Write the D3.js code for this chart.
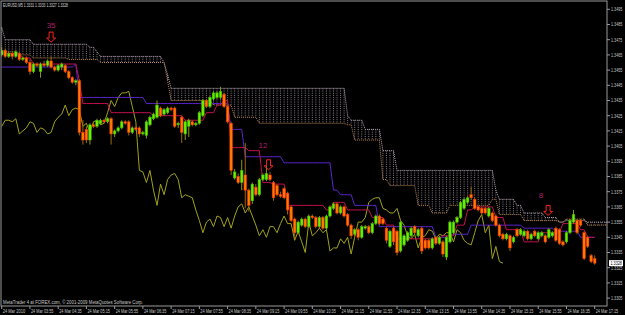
<!DOCTYPE html>
<html>
<head>
<meta charset="utf-8">
<script src="https://cdn.jsdelivr.net/npm/d3@7/dist/d3.min.js"></script>
<style>
  html, body { margin: 0; padding: 0; background: #000; }
  svg { display: block; }
  text { font-family: "Liberation Sans", Arial, sans-serif; }
</style>
</head>
<body>
<svg id="chart" width="625" height="315"></svg>
<script>
// EURUSD M5, 24 Mar 2010 03:15 - 17:15, one entry per bar
var opens = [1.3465,1.3468,1.3464,1.3466,1.3464,1.3466,1.3462,1.3463,1.3460,1.3454,1.3459,1.3454,1.3459,1.3458,1.3461,1.3457,1.3455,1.3457,1.3458,1.3454,
  1.3450,1.3447,1.3448,1.3414,1.3416,1.3409,1.3419,1.3418,1.3420,1.3422,1.3421,1.3423,1.3413,1.3415,1.3417,1.3421,1.3421,1.3414,1.3417,1.3417,
  1.3413,1.3412,1.3419,1.3423,1.3424,1.3430,1.3426,1.3427,1.3430,1.3430,1.3419,1.3424,1.3413,1.3418,1.3421,1.3419,1.3420,1.3425,1.3435,1.3431,
  1.3436,1.3437,1.3437,1.3439,1.3431,1.3420,1.3384,1.3385,1.3381,1.3386,1.3376,1.3369,1.3378,1.3373,1.3383,1.3383,1.3386,1.3381,1.3379,1.3373,
  1.3377,1.3374,1.3365,1.3357,1.3348,1.3353,1.3357,1.3352,1.3359,1.3358,1.3352,1.3358,1.3351,1.3359,1.3364,1.3367,1.3361,1.3365,1.3360,1.3353,
  1.3347,1.3350,1.3345,1.3351,1.3352,1.3348,1.3354,1.3359,1.3357,1.3351,1.3339,1.3351,1.3349,1.3336,1.3340,1.3343,1.3346,1.3352,1.3346,1.3351,
  1.3343,1.3343,1.3338,1.3345,1.3341,1.3342,1.3332,1.3342,1.3348,1.3355,1.3358,1.3364,1.3368,1.3373,1.3370,1.3365,1.3364,1.3364,1.3359,1.3361,
  1.3359,1.3353,1.3347,1.3344,1.3346,1.3342,1.3350,1.3347,1.3346,1.3349,1.3344,1.3349,1.3344,1.3346,1.3346,1.3345,1.3346,1.3351,1.3350,1.3342,
  1.3342,1.3348,1.3355,1.3356,1.3356,1.3348,1.3345,1.3333,1.3331];
var highs = [1.3470,1.3469,1.3467,1.3467,1.3468,1.3467,1.3464,1.3464,1.3462,1.3460,1.3460,1.3460,1.3461,1.3462,1.3464,1.3458,1.3459,1.3460,1.3459,1.3455,
  1.3451,1.3449,1.3449,1.3422,1.3418,1.3420,1.3421,1.3423,1.3423,1.3423,1.3424,1.3424,1.3416,1.3418,1.3422,1.3422,1.3422,1.3418,1.3418,1.3418,
  1.3415,1.3422,1.3425,1.3427,1.3435,1.3431,1.3430,1.3431,1.3431,1.3431,1.3421,1.3425,1.3422,1.3423,1.3422,1.3421,1.3428,1.3436,1.3436,1.3438,
  1.3441,1.3441,1.3444,1.3440,1.3432,1.3421,1.3390,1.3387,1.3396,1.3407,1.3377,1.3381,1.3380,1.3384,1.3387,1.3392,1.3388,1.3382,1.3380,1.3375,
  1.3378,1.3375,1.3366,1.3358,1.3356,1.3358,1.3358,1.3360,1.3360,1.3359,1.3359,1.3359,1.3360,1.3366,1.3368,1.3368,1.3366,1.3366,1.3361,1.3354,
  1.3351,1.3351,1.3353,1.3353,1.3353,1.3355,1.3360,1.3360,1.3358,1.3352,1.3350,1.3352,1.3350,1.3356,1.3347,1.3349,1.3352,1.3353,1.3351,1.3352,
  1.3344,1.3344,1.3345,1.3346,1.3346,1.3343,1.3346,1.3356,1.3356,1.3359,1.3369,1.3371,1.3372,1.3378,1.3371,1.3366,1.3365,1.3365,1.3365,1.3362,
  1.3360,1.3354,1.3348,1.3348,1.3347,1.3346,1.3351,1.3351,1.3350,1.3350,1.3348,1.3350,1.3349,1.3349,1.3347,1.3351,1.3349,1.3352,1.3351,1.3343,
  1.3349,1.3357,1.3363,1.3357,1.3357,1.3349,1.3346,1.3334,1.3333];
var lows = [1.3464,1.3463,1.3463,1.3462,1.3463,1.3461,1.3461,1.3459,1.3452,1.3453,1.3457,1.3450,1.3457,1.3457,1.3456,1.3454,1.3454,1.3455,1.3453,1.3449,
  1.3446,1.3445,1.3412,1.3406,1.3407,1.3406,1.3417,1.3417,1.3419,1.3420,1.3420,1.3406,1.3411,1.3414,1.3416,1.3419,1.3412,1.3413,1.3415,1.3411,
  1.3412,1.3410,1.3418,1.3422,1.3423,1.3424,1.3425,1.3426,1.3428,1.3417,1.3417,1.3407,1.3409,1.3411,1.3418,1.3418,1.3419,1.3424,1.3430,1.3430,
  1.3435,1.3436,1.3436,1.3430,1.3420,1.3386,1.3383,1.3380,1.3376,1.3364,1.3362,1.3367,1.3372,1.3372,1.3382,1.3382,1.3382,1.3369,1.3372,1.3371,
  1.3370,1.3360,1.3355,1.3344,1.3347,1.3352,1.3351,1.3351,1.3357,1.3351,1.3351,1.3350,1.3350,1.3358,1.3363,1.3360,1.3360,1.3358,1.3352,1.3344,
  1.3346,1.3343,1.3344,1.3350,1.3347,1.3347,1.3353,1.3353,1.3353,1.3341,1.3338,1.3340,1.3333,1.3335,1.3339,1.3342,1.3345,1.3347,1.3345,1.3334,
  1.3337,1.3337,1.3337,1.3340,1.3340,1.3332,1.3330,1.3341,1.3347,1.3354,1.3357,1.3363,1.3367,1.3370,1.3363,1.3362,1.3360,1.3360,1.3358,1.3355,
  1.3352,1.3345,1.3343,1.3343,1.3336,1.3341,1.3345,1.3346,1.3345,1.3343,1.3343,1.3345,1.3343,1.3345,1.3341,1.3344,1.3345,1.3342,1.3340,1.3339,
  1.3341,1.3347,1.3354,1.3347,1.3352,1.3330,1.3338,1.3328,1.3327];
var closes = [1.3468,1.3464,1.3466,1.3464,1.3467,1.3462,1.3463,1.3460,1.3454,1.3459,1.3458,1.3459,1.3458,1.3461,1.3457,1.3455,1.3458,1.3459,1.3454,1.3450,
  1.3447,1.3448,1.3414,1.3409,1.3409,1.3419,1.3418,1.3422,1.3422,1.3421,1.3423,1.3413,1.3415,1.3417,1.3421,1.3420,1.3414,1.3417,1.3416,1.3413,
  1.3414,1.3421,1.3424,1.3426,1.3432,1.3425,1.3429,1.3430,1.3429,1.3418,1.3420,1.3414,1.3421,1.3422,1.3419,1.3420,1.3427,1.3435,1.3431,1.3437,
  1.3440,1.3440,1.3441,1.3431,1.3421,1.3389,1.3388,1.3381,1.3389,1.3376,1.3366,1.3380,1.3373,1.3383,1.3386,1.3387,1.3383,1.3371,1.3373,1.3372,
  1.3371,1.3363,1.3356,1.3348,1.3355,1.3357,1.3352,1.3359,1.3358,1.3352,1.3358,1.3351,1.3359,1.3365,1.3367,1.3361,1.3365,1.3359,1.3353,1.3346,
  1.3350,1.3345,1.3352,1.3352,1.3348,1.3354,1.3359,1.3354,1.3354,1.3343,1.3349,1.3342,1.3335,1.3355,1.3346,1.3348,1.3351,1.3348,1.3350,1.3336,
  1.3338,1.3338,1.3344,1.3341,1.3345,1.3334,1.3345,1.3355,1.3355,1.3358,1.3368,1.3370,1.3371,1.3371,1.3364,1.3363,1.3361,1.3361,1.3364,1.3356,
  1.3353,1.3346,1.3344,1.3347,1.3338,1.3345,1.3346,1.3350,1.3349,1.3344,1.3347,1.3346,1.3348,1.3348,1.3342,1.3350,1.3348,1.3343,1.3341,1.3340,
  1.3348,1.3356,1.3360,1.3348,1.3353,1.3331,1.3339,1.3329,1.3328];

// indicator levels: [bar, price], value holds until next entry
var tenkanSteps = [[0,1.3466],[6,1.3463],[9,1.3459],[22,1.3448],[23,1.3433],[31,1.3427],[43,1.3425],[52,1.3422],[58,1.3427],[61,1.3432],
  [63,1.3435],[65,1.3404],[70,1.3402],[74,1.3381],[77,1.3380],[81,1.3366],[92,1.3363],[94,1.3368],[98,1.3363],[105,1.3358],[109,1.3353],
  [112,1.3344],[125,1.3346],[129,1.3353],[132,1.3363],[134,1.3365],[140,1.3358],[143,1.3350],[148,1.3342],[153,1.3348],[159,1.3354],
  [164,1.3350],[166,1.3345],[168,1.3345]];
var kijunSteps = [[0,1.3457],[21,1.3459],[22,1.3437],[41,1.3433],[65,1.3416],[69,1.3398],[80,1.3394],[94,1.3376],[96,1.3373],[100,1.3366],
  [107,1.3352],[123,1.3345],[127,1.3347],[133,1.3353],[148,1.3351],[157,1.3349],[164,1.3345],[168,1.3345]];
var spanASteps = [[0,1.3467],[5,1.3465],[9,1.3463],[19,1.3462],[28,1.3460],[47,1.3448],[48,1.3435],[60,1.3432],[66,1.3424],[73,1.3420],
  [98,1.3419],[100,1.3409],[108,1.3383],[110,1.3379],[118,1.3366],[122,1.3361],[127,1.3366],[139,1.3370],[141,1.3360],[148,1.3356],
  [158,1.3355],[160,1.3357],[166,1.3353],[172,1.3353]];
var spanBSteps = [[0,1.3483],[1,1.3475],[9,1.3472],[25,1.3470],[27,1.3467],[28,1.3464],[46,1.3460],[47,1.3452],[48,1.3443],[98,1.3425],
  [99,1.3422],[103,1.3416],[108,1.3402],[112,1.3389],[140,1.3376],[141,1.3370],[146,1.3366],[148,1.3361],[154,1.3358],[158,1.3355],
  [160,1.3356],[166,1.3355],[172,1.3355]];

var priceLabels = [1.3495,1.3485,1.3475,1.3465,1.3455,1.3445,1.3435,1.3425,1.3415,1.3405,1.3395,1.3385,1.3375,1.3365,1.3355,1.3345,1.3335,1.3325,1.3315,1.3305];
var timeLabels = ["24 Mar 2010","24 Mar 03:55","24 Mar 04:35","24 Mar 05:15","24 Mar 05:55","24 Mar 06:35","24 Mar 07:15","24 Mar 07:55",
  "24 Mar 08:35","24 Mar 09:15","24 Mar 09:55","24 Mar 10:35","24 Mar 11:15","24 Mar 11:55","24 Mar 12:35","24 Mar 13:15","24 Mar 13:55",
  "24 Mar 14:35","24 Mar 15:15","24 Mar 15:55","24 Mar 16:35","24 Mar 17:15"];
var signals = [
  {bar: 14, label: "35", price: 1.3483, arrowBar: 14, arrow: 1.3480},
  {bar: 74, label: "12", price: 1.3404, arrowBar: 75.6, arrow: 1.3396},
  {bar: 152.8, label: "8", price: 1.3371, arrowBar: 154.8, arrow: 1.3366}];

var svg = d3.select("#chart");
var W = 625, H = 315;
var plotRight = 607, plotBottom = 306;

var x = d3.scaleLinear().domain([0, 168]).range([1.7, 594.7]);
var y = d3.scaleLinear().domain([1.3495, 1.3305]).range([9.3, 298.1]);

svg.append("rect").attr("width", W).attr("height", H).attr("fill", "#000");

svg.append("defs").append("clipPath").attr("id", "plot")
  .append("rect").attr("x", 1).attr("y", 1).attr("width", plotRight - 1).attr("height", plotBottom - 1);

var g = svg.append("g").attr("clip-path", "url(#plot)");

// expand step breakpoints to one value per bar
function perBar(steps, n) {
  var out = [], k = 0;
  for (var i = 0; i < n; i++) {
    while (k + 1 < steps.length && steps[k + 1][0] <= i) k++;
    out.push(steps[k][1]);
  }
  return out;
}

var cloudBars = 173;
var spanA = perBar(spanASteps, cloudBars);
var spanB = perBar(spanBSteps, cloudBars);

// cloud hatch
g.selectAll("line.hatch").data(d3.range(cloudBars)).enter().append("line")
  .attr("x1", i => x(i)).attr("x2", i => x(i))
  .attr("y1", i => y(Math.max(spanA[i], spanB[i])))
  .attr("y2", i => y(Math.min(spanA[i], spanB[i])))
  .attr("stroke", i => spanA[i] > spanB[i] ? "#c08a58" : "#b9aab9")
  .attr("stroke-width", 0.9)
  .attr("stroke-dasharray", "1,1.2")
  .attr("opacity", 0.8);

var line = d3.line().x((d, i) => x(i)).y(d => y(d));

g.append("path").datum(spanA).attr("d", line)
  .attr("fill", "none").attr("stroke", "#c08a58").attr("stroke-width", 1).attr("stroke-dasharray", "1,1");
g.append("path").datum(spanB).attr("d", line)
  .attr("fill", "none").attr("stroke", "#b9aab9").attr("stroke-width", 1).attr("stroke-dasharray", "1,1");

// chikou span: close shifted back 26 bars
var chikou = closes.slice(26);
g.append("path").datum(chikou).attr("d", line)
  .attr("fill", "none").attr("stroke", "#a2a21c").attr("stroke-width", 1);

var nBars = closes.length;
g.append("path").datum(perBar(kijunSteps, nBars)).attr("d", line)
  .attr("fill", "none").attr("stroke", "#5a24c8").attr("stroke-width", 1);
g.append("path").datum(perBar(tenkanSteps, nBars)).attr("d", line)
  .attr("fill", "none").attr("stroke", "#c2104e").attr("stroke-width", 1);

// candles
var candles = g.selectAll("g.candle").data(d3.range(nBars)).enter().append("g");
candles.append("line")
  .attr("x1", i => x(i)).attr("x2", i => x(i))
  .attr("y1", i => y(highs[i])).attr("y2", i => y(lows[i]))
  .attr("stroke", i => closes[i] >= opens[i] ? "#8c9a18" : "#9a6a10")
  .attr("stroke-width", 1);
candles.append("rect")
  .attr("x", i => x(i) - 1.3)
  .attr("width", 2.6)
  .attr("y", i => y(Math.max(opens[i], closes[i])))
  .attr("height", i => Math.max(1, Math.abs(y(opens[i]) - y(closes[i]))))
  .attr("fill", i => closes[i] >= opens[i] ? "#6cf000" : "#ff7a00")
  .attr("stroke", i => closes[i] >= opens[i] ? "#38b000" : "#ff2a00")
  .attr("stroke-width", 0.5);

// signal marks
signals.forEach(function (s) {
  g.append("text").attr("x", x(s.bar)).attr("y", y(s.price))
    .attr("text-anchor", "middle").attr("font-size", 8)
    .attr("fill", "#b41e6e").text(s.label);
  var cx = x(s.arrowBar), ty = y(s.arrow);
  var pts = [[cx - 2, ty], [cx + 2, ty], [cx + 2, ty + 6], [cx + 4.5, ty + 6], [cx, ty + 10], [cx - 4.5, ty + 6], [cx - 2, ty + 6]];
  g.append("polygon").attr("points", pts.map(p => p.join(",")).join(" "))
    .attr("fill", "none").attr("stroke", "#ff2020").attr("stroke-width", 1);
});

// frame
svg.append("rect").attr("x", 1).attr("y", 1).attr("width", plotRight - 1).attr("height", plotBottom - 1)
  .attr("fill", "none").attr("stroke", "#9a9a9a").attr("stroke-width", 1);

// price axis
var pa = svg.append("g");
priceLabels.forEach(function (p) {
  pa.append("line").attr("x1", plotRight).attr("x2", plotRight + 3).attr("y1", y(p)).attr("y2", y(p))
    .attr("stroke", "#9a9a9a");
  pa.append("text").attr("x", plotRight + 4).attr("y", y(p) + 1.8)
    .attr("font-size", 5).attr("fill", "#c8c8c8")
    .attr("textLength", 11.3).attr("lengthAdjust", "spacingAndGlyphs").text(p.toFixed(4));
});
var last = closes[nBars - 1];
pa.append("rect").attr("x", plotRight + 2).attr("y", y(last) - 3).attr("width", 14).attr("height", 6).attr("fill", "#fff");
pa.append("text").attr("x", plotRight + 3.5).attr("y", y(last) + 1.8)
  .attr("font-size", 5).attr("fill", "#000")
  .attr("textLength", 11.3).attr("lengthAdjust", "spacingAndGlyphs").text(last.toFixed(4));

// time axis
var ta = svg.append("g");
timeLabels.forEach(function (t, k) {
  var xb = x(k * 8);
  ta.append("line").attr("x1", xb).attr("x2", xb).attr("y1", plotBottom).attr("y2", plotBottom + 3).attr("stroke", "#9a9a9a");
  ta.append("text").attr("x", xb + 1).attr("y", 312.5).attr("font-size", 4.6).attr("fill", "#c8c8c8")
    .attr("textLength", 22.5).attr("lengthAdjust", "spacingAndGlyphs").text(t);
});

svg.append("text").attr("x", 3).attr("y", 6.5).attr("font-size", 5).attr("fill", "#d8d8d8")
  .attr("textLength", 65).attr("lengthAdjust", "spacingAndGlyphs")
  .text("EURUSD,M5  1.3331 1.3333 1.3327 1.3328");
svg.append("text").attr("x", 3).attr("y", 304).attr("font-size", 4.6).attr("fill", "#c8c8c8")
  .attr("textLength", 140).attr("lengthAdjust", "spacingAndGlyphs")
  .text("MetaTrader 4 at FOREX.com, \u00a9 2001-2009 MetaQuotes Software Corp.");
</script>
</body>
</html>
